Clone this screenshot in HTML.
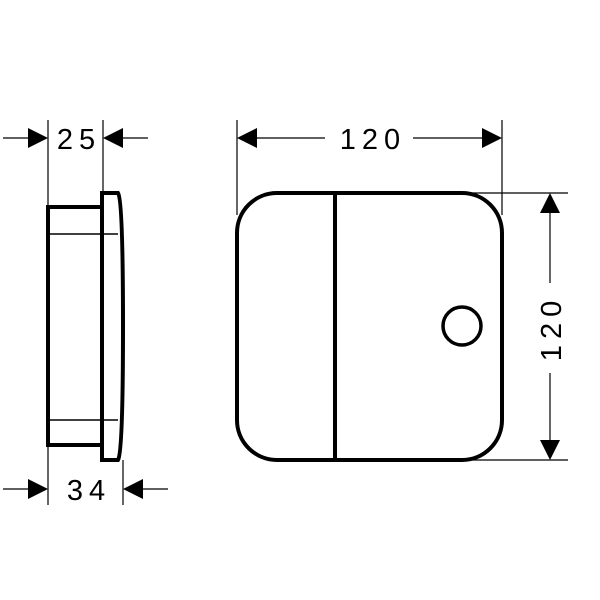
<!DOCTYPE html>
<html><head><style>html,body{margin:0;padding:0;background:#fff;width:600px;height:600px;overflow:hidden}</style></head>
<body>
<svg width="600" height="600" viewBox="0 0 600 600" xmlns="http://www.w3.org/2000/svg">
<g fill="none" stroke="#000">
<path d="M101 207 L48 207 L48 445 L101 445" stroke-width="4"/>
<path d="M102 460 L102 193 L118 193 Q123 200 123 326 Q123 452 118 460 Z" stroke-width="4"/>
<line x1="50" y1="234" x2="118" y2="234" stroke-width="1.5"/>
<line x1="50" y1="420" x2="118" y2="420" stroke-width="1.5"/>
<line x1="48" y1="120" x2="48" y2="207" stroke-width="1.2"/>
<line x1="103" y1="120" x2="103" y2="192" stroke-width="1.2"/>
<line x1="3" y1="138" x2="30" y2="138" stroke-width="1.2"/>
<line x1="122" y1="138" x2="148" y2="138" stroke-width="1.2"/>
<line x1="48" y1="445" x2="48" y2="505" stroke-width="1.2"/>
<line x1="123" y1="460" x2="123" y2="505" stroke-width="1.2"/>
<line x1="3" y1="489" x2="30" y2="489" stroke-width="1.2"/>
<line x1="142" y1="489" x2="168" y2="489" stroke-width="1.2"/>
<rect x="237" y="193" width="265" height="267" rx="40" ry="40" stroke-width="4"/>
<line x1="335" y1="193" x2="335" y2="460" stroke-width="4"/>
<circle cx="462" cy="326" r="19" stroke-width="3.5"/>
<line x1="237" y1="120" x2="237" y2="215" stroke-width="1.2"/>
<line x1="502" y1="120" x2="502" y2="215" stroke-width="1.2"/>
<line x1="250" y1="138" x2="325" y2="138" stroke-width="1.2"/>
<line x1="413" y1="138" x2="490" y2="138" stroke-width="1.2"/>
<line x1="470" y1="193" x2="568" y2="193" stroke-width="1.2"/>
<line x1="470" y1="460" x2="568" y2="460" stroke-width="1.2"/>
<line x1="550" y1="205" x2="550" y2="283" stroke-width="1.2"/>
<line x1="550" y1="373" x2="550" y2="448" stroke-width="1.2"/>
</g>
<g fill="#000">
<polygon points="48,138 28,128 28,148"/>
<polygon points="103,138 123,128 123,148"/>
<polygon points="48,489 28,479 28,499"/>
<polygon points="123,489 143,479 143,499"/>
<polygon points="237,138 257,128 257,148"/>
<polygon points="502,138 482,128 482,148"/>
<polygon points="550,193 540,213 560,213"/>
<polygon points="550,460 540,440 560,440"/>
</g>
<g font-family="Liberation Sans, sans-serif" font-size="29" fill="#000" text-anchor="middle" letter-spacing="6">
<text x="79" y="149">25</text>
<text x="89" y="500">34</text>
<text x="373" y="149">120</text>
<text x="0" y="0" transform="translate(561,328) rotate(-90)">120</text>
</g>
</svg>
</body></html>
